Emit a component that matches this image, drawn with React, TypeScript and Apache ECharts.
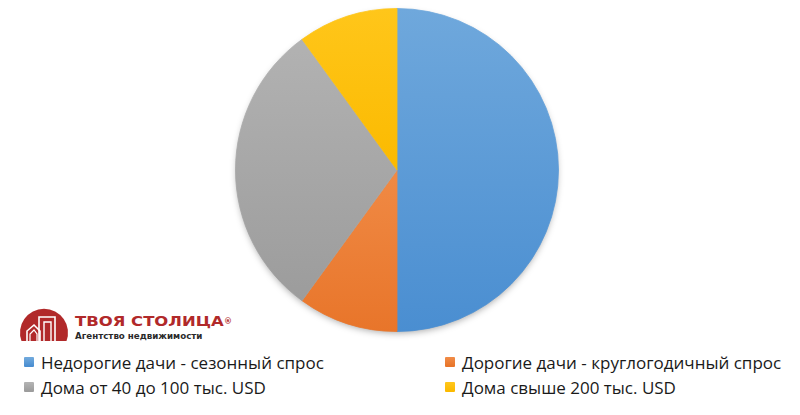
import React, { useEffect, useRef } from "react";
import * as echarts from "echarts";

const categories = [
  "Недорогие дачи - сезонный спрос",
  "Дорогие дачи - круглогодичный спрос",
  "Дома от 40 до 100 тыс. USD",
  "Дома свыше 200 тыс. USD",
];
const values = [50, 10, 30, 10];
const colorsTop = ["#6FA8DC", "#F08A45", "#B2B2B2", "#FFC61A"];
const colorsBottom = ["#4A8ED1", "#E8752A", "#9C9C9C", "#FBBA00"];

const LOGO_D = "M21.5 341 A24 24 0 1 1 66.5 341 Z";
let registered = false;

export default function App() {
  const ref = useRef<HTMLDivElement>(null);
  useEffect(() => {
    if (!registered) {
      echarts.graphic.registerShape("logo", echarts.graphic.extendPath(LOGO_D, {}) as any);
      registered = true;
    }
    const chart = echarts.init(ref.current!, undefined, { renderer: "svg" });
    const grad = (i: number) =>
      new echarts.graphic.LinearGradient(0, 0, 0, 1, [
        { offset: 0, color: colorsTop[i] },
        { offset: 1, color: colorsBottom[i] },
      ]);
    const data = categories.map((name, i) => ({
      name,
      value: values[i],
      itemStyle: {
        color: grad(i),
        borderColor: grad(i),
        borderWidth: 0.8,
      },
    }));
    const legendText = {
      fontSize: 17,
      fontFamily: "Open Sans",
      color: "#1a1a1a",
      padding: [0, 0, 0, 3],
      lineHeight: 20,
    };
    const legendBase = {
      orient: "vertical",
      top: 352,
      padding: 0,
      itemWidth: 8,
      itemHeight: 8,
      icon: "rect",
      itemGap: 5,
      textStyle: legendText,
      selectedMode: false,
    };
    chart.setOption({
      animation: false,
      color: colorsBottom,
      legend: [
        { ...legendBase, left: 24, data: [categories[0], categories[2]] },
        { ...legendBase, left: 445, data: [categories[1], categories[3]] },
      ],
      series: [
        {
          type: "pie",
          center: [397, 170],
          radius: 161.5,
          startAngle: 90,
          clockwise: true,
          z: 3,
          label: { show: false },
          labelLine: { show: false },
          emphasis: { disabled: true },
          data,
        },
      ],
      graphic: [
        {
          type: "circle",
          z: 1,
          shape: { cx: 397, cy: 170, r: 160 },
          style: {
            fill: "#ffffff",
            shadowBlur: 7,
            shadowOffsetY: 3,
            shadowColor: "rgba(0,0,0,0.35)",
          },
        },
        {
          type: "logo",
          x: 0,
          y: 0,
          style: { fill: "#B1292A" },
        },
        {
          type: "polyline",
          shape: { points: [[39, 341], [39, 317], [55, 317], [55, 341]] },
          style: { stroke: "#fff", lineWidth: 1.6, fill: "none" },
        },
        {
          type: "polyline",
          shape: { points: [[44, 341], [44, 322], [51, 322], [51, 341]] },
          style: { stroke: "#fff", lineWidth: 1.4, fill: "none" },
        },
        {
          type: "polyline",
          shape: { points: [[27, 341], [27, 331], [34, 325], [40, 331], [40, 341]] },
          style: { stroke: "#fff", lineWidth: 1.6, fill: "none" },
        },
        {
          type: "polyline",
          shape: { points: [[30, 341], [30, 334], [34, 330], [37, 334], [37, 341]] },
          style: { stroke: "#fff", lineWidth: 1.2, fill: "none" },
        },
        {
          type: "text",
          x: 75,
          y: 314,
          scaleX: 1.2,
          style: {
            text: "ТВОЯ СТОЛИЦА",
            fontSize: 13.7,
            fontWeight: "bold",
            fontFamily: "DejaVu Sans",
            fill: "#B1292A",
          },
        },
        {
          type: "text",
          x: 224,
          y: 317,
          style: {
            text: "®",
            fontSize: 8,
            fontWeight: "bold",
            fontFamily: "DejaVu Sans",
            fill: "#B1292A",
          },
        },
        {
          type: "text",
          x: 75,
          y: 331.5,
          style: {
            text: "Агентство недвижимости",
            fontSize: 8.7,
            fontWeight: "bold",
            fontFamily: "DejaVu Sans",
            fill: "#2a2a2a",
          },
        },
      ],
    });
    return () => chart.dispose();
  }, []);
  return (
    <div
      ref={ref}
      style={{ position: "fixed", left: 0, top: 0, width: 800, height: 415, background: "#fff" }}
    />
  );
}
